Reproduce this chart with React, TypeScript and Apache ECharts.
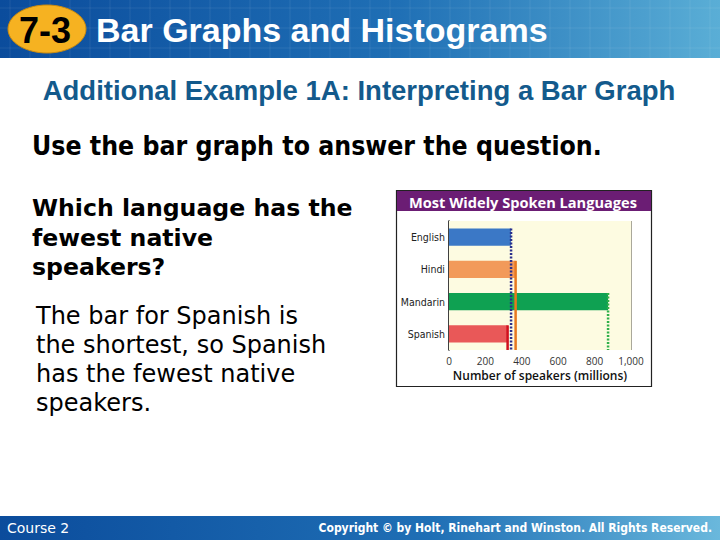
import React, { useEffect, useRef } from "react";
import * as echarts from "echarts";

const languages = ["English", "Hindi", "Mandarin", "Spanish"];
const speakers = [341, 366, 874, 322];
const barColors = ["#3b78c6", "#f29a5a", "#0fa152", "#e95858"];
const markerColors = ["#2a2f8c", "#e8781e", "#2fb04a", "#d0101e"];
const markerDashed = [true, false, true, false];
const xTicks = [0, 200, 400, 600, 800, 1000];

const questionLines = ["Which language has the", "fewest native", "speakers?"];
const answerLines = [
  "The bar for Spanish is",
  "the shortest, so Spanish",
  "has the fewest native",
  "speakers.",
];

export default function App() {
  const ref = useRef<HTMLDivElement>(null);
  useEffect(() => {
    document.body.style.margin = "0";
    const chart = echarts.init(ref.current!, null, { renderer: "svg" });
    const BAR_RATIO = 0.53;

    const graphics: any[] = [];
    // header bar
    graphics.push({
      type: "rect",
      shape: { x: 0, y: 0, width: 720, height: 58 },
      style: {
        fill: new echarts.graphic.LinearGradient(0, 0, 1, 0, [
          { offset: 0, color: "#0b4c9c" },
          { offset: 0.55, color: "#1f6fb5" },
          { offset: 1, color: "#5aaed6" },
        ]),
      },
      z: 0,
    });
    for (let i = 0; i < 36; i++) {
      graphics.push({
        type: "line",
        shape: { x1: i * 20 + 10, y1: 0, x2: i * 20 + 10, y2: 58 },
        style: { stroke: "rgba(255,255,255,0.08)", lineWidth: 1 },
        z: 1,
      });
    }
    for (let j = 0; j < 3; j++) {
      graphics.push({
        type: "line",
        shape: { x1: 0, y1: j * 20 + 8, x2: 720, y2: j * 20 + 8 },
        style: { stroke: "rgba(255,255,255,0.08)", lineWidth: 1 },
        z: 1,
      });
    }
    graphics.push({
      type: "ellipse",
      shape: { cx: 47, cy: 29, rx: 39, ry: 24 },
      style: { fill: "#f6b221", stroke: "#c98a10", lineWidth: 1 },
      z: 2,
    });
    graphics.push({
      type: "text",
      x: 45,
      y: 30,
      style: {
        text: "7-3",
        fill: "#000",
        font: "bold 36px 'Liberation Sans', Arial, sans-serif",
        align: "center",
        verticalAlign: "middle",
      },
      z: 3,
    });
    graphics.push({
      type: "text",
      x: 96,
      y: 30,
      style: {
        text: "Bar Graphs and Histograms",
        fill: "#fff",
        font: "bold 34px 'Liberation Sans', Arial, sans-serif",
        verticalAlign: "middle",
      },
      z: 3,
    });
    // footer bar
    graphics.push({
      type: "rect",
      shape: { x: 0, y: 516, width: 720, height: 24 },
      style: {
        fill: new echarts.graphic.LinearGradient(0, 0, 1, 0, [
          { offset: 0, color: "#0b4c9c" },
          { offset: 0.6, color: "#1f6fb5" },
          { offset: 1, color: "#6ab8dc" },
        ]),
      },
      z: 0,
    });
    graphics.push({
      type: "text",
      x: 7,
      y: 528,
      style: {
        text: "Course 2",
        fill: "#fff",
        font: "14px 'DejaVu Sans', Verdana, sans-serif",
        verticalAlign: "middle",
      },
      z: 3,
    });
    graphics.push({
      type: "text",
      x: 712,
      y: 528,
      style: {
        text: "Copyright © by Holt, Rinehart and Winston. All Rights Reserved.",
        fill: "#fff",
        font: "bold 12px 'DejaVu Sans Condensed', 'DejaVu Sans', sans-serif",
        align: "right",
        verticalAlign: "middle",
      },
      z: 3,
    });
    // subtitle
    graphics.push({
      type: "text",
      x: 359,
      y: 90,
      style: {
        text: "Additional Example 1A: Interpreting a Bar Graph",
        fill: "#135a8c",
        font: "bold 27.5px 'Liberation Sans', Arial, sans-serif",
        align: "center",
        verticalAlign: "middle",
      },
    });
    graphics.push({
      type: "text",
      x: 32,
      y: 145,
      style: {
        text: "Use the bar graph to answer the question.",
        fill: "#000",
        font: "bold 26.4px 'DejaVu Sans Condensed', 'DejaVu Sans', sans-serif",
        verticalAlign: "middle",
      },
    });
    questionLines.forEach((t, i) => {
      graphics.push({
        type: "text",
        x: 32,
        y: 208 + i * 29.5,
        style: {
          text: t,
          fill: "#000",
          font: "bold 23.6px 'DejaVu Sans', Verdana, sans-serif",
          verticalAlign: "middle",
        },
      });
    });
    answerLines.forEach((t, i) => {
      graphics.push({
        type: "text",
        x: 36,
        y: 316 + i * 29,
        style: {
          text: t,
          fill: "#000",
          font: "24px 'DejaVu Sans', Verdana, sans-serif",
          verticalAlign: "middle",
        },
      });
    });
    // chart box
    graphics.push({
      type: "rect",
      shape: { x: 396.5, y: 190.5, width: 255, height: 196 },
      style: { fill: "#fff", stroke: "#222", lineWidth: 1.2 },
      z: -10,
    });
    graphics.push({
      type: "rect",
      shape: { x: 397, y: 191, width: 254, height: 20 },
      style: { fill: "#6b1d74" },
      z: -9,
    });
    graphics.push({
      type: "text",
      x: 523,
      y: 201.5,
      style: {
        text: "Most Widely Spoken Languages",
        fill: "#fff",
        font: "bold 14.6px 'Open Sans', 'DejaVu Sans', sans-serif",
        align: "center",
        verticalAlign: "middle",
      },
      z: -8,
    });

    chart.setOption({
      animation: false,
      graphic: graphics,
      grid: {
        left: 449,
        top: 221,
        width: 182,
        height: 129,
        show: true,
        backgroundColor: "#fdfbe1",
        borderWidth: 0,
        z: 1,
      },
      xAxis: {
        type: "value",
        min: 0,
        max: 1000,
        interval: 200,
        name: "Number of speakers (millions)",
        nameLocation: "middle",
        nameGap: 19,
        nameTextStyle: {
          color: "#111",
          fontSize: 12,
          fontWeight: 600,
          fontFamily: "'Open Sans', 'DejaVu Sans', sans-serif",
        },
        axisLine: { show: false },
        axisTick: { show: false },
        axisLabel: {
          color: "#333",
          fontSize: 10,
          margin: 6,
          fontFamily: "'Open Sans', 'DejaVu Sans', sans-serif",
          formatter: (v: number) =>
            xTicks.includes(v) ? v.toLocaleString("en-US") : "",
        },
        splitLine: { show: true, lineStyle: { color: "#aaa89a", width: 1 } },
      },
      yAxis: {
        type: "category",
        data: languages,
        inverse: true,
        axisLine: { show: true, lineStyle: { color: "#000", width: 1.5 } },
        axisTick: { show: false },
        axisLabel: {
          color: "#222",
          fontSize: 10.5,
          margin: 4,
          fontFamily: "'DejaVu Sans Condensed', 'Liberation Sans Narrow', sans-serif",
        },
        splitLine: { show: false },
      },
      series: [
        {
          type: "bar",
          data: speakers.map((v, i) => ({
            value: v,
            itemStyle: { color: barColors[i] },
          })),
          barWidth: (BAR_RATIO * 100).toFixed(0) + "%",
          z: 2,
        },
        {
          type: "custom",
          coordinateSystem: "cartesian2d",
          encode: { x: 0, y: 1 },
          data: speakers.map((v, i) => [v, languages[i], i]),
          z: 3,
          renderItem: (params: any, api: any) => {
            const idx = api.value(2);
            const p = api.coord([api.value(0), api.value(1)]);
            const band = api.size([0, 1])[1];
            const top = p[1] - (band * BAR_RATIO) / 2;
            const cs = params.coordSys;
            const bottom = cs.y + cs.height;
            return {
              type: "line",
              shape: { x1: p[0], y1: top, x2: p[0], y2: bottom },
              style: {
                stroke: markerColors[idx],
                lineWidth: 2.5,
                lineDash: markerDashed[idx] ? [2, 1.5] : null,
              },
            };
          },
        },
      ],
    });
    return () => chart.dispose();
  }, []);
  return <div ref={ref} style={{ width: 720, height: 540 }} />;
}
